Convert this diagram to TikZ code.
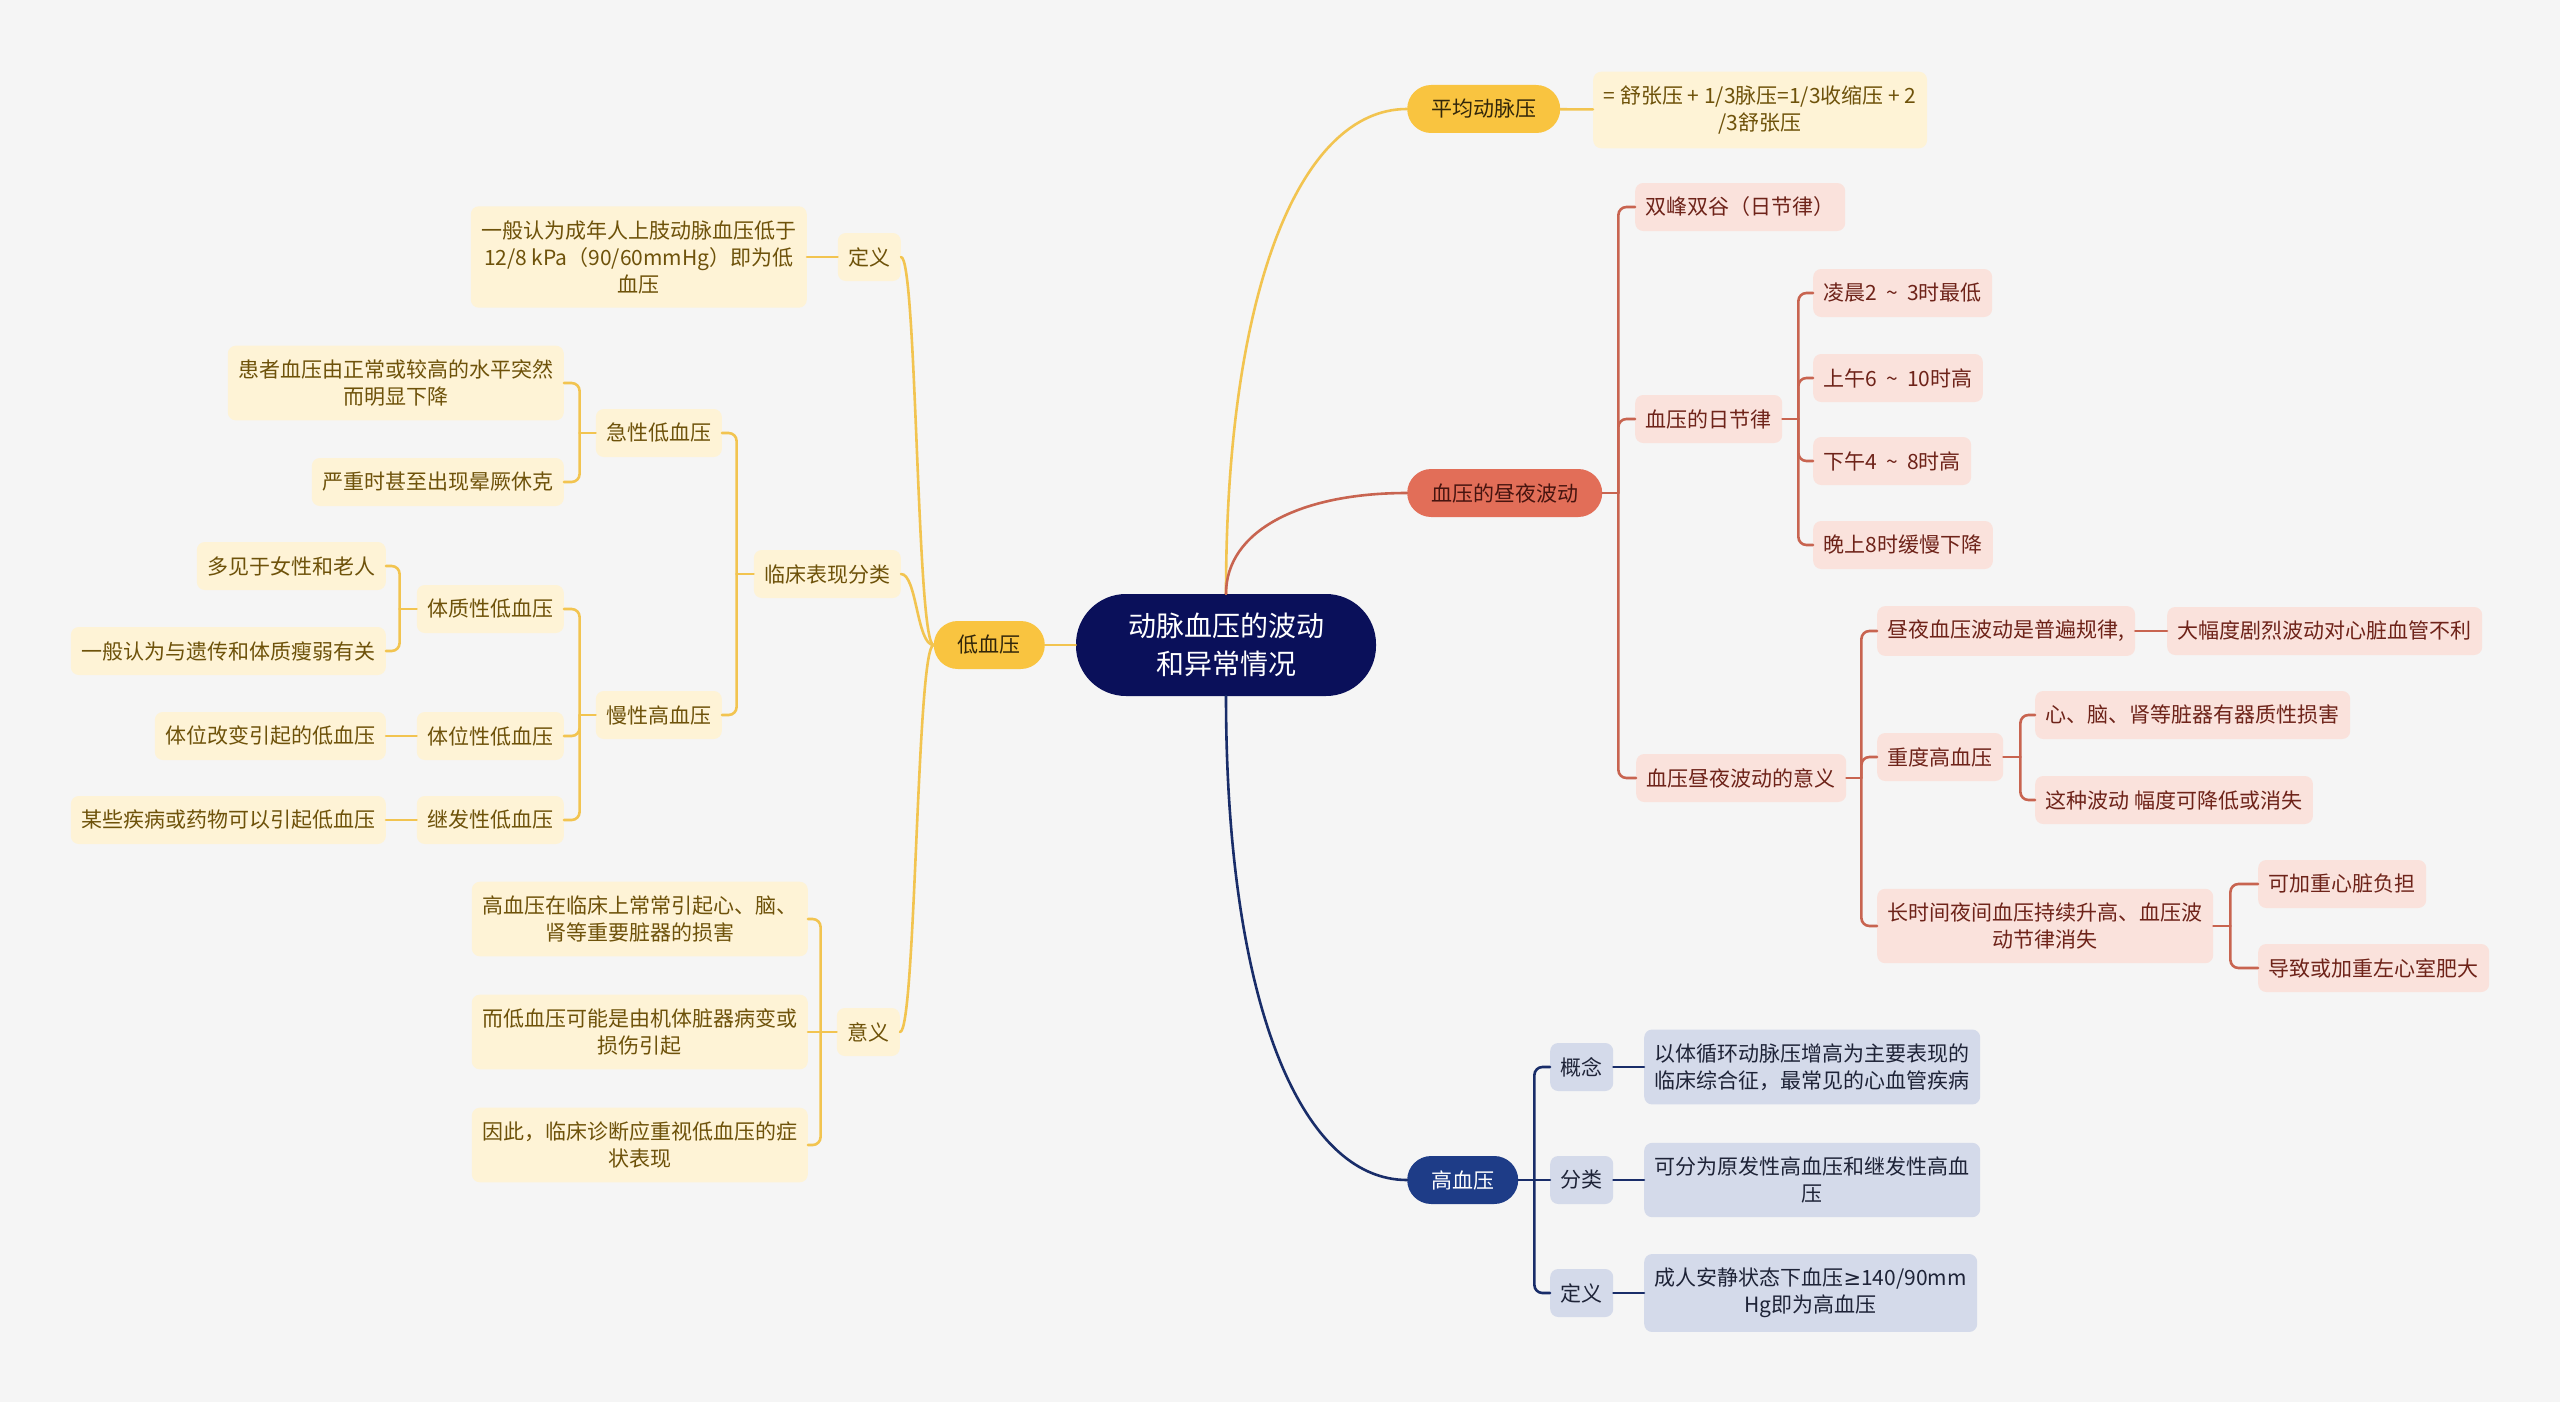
\documentclass[tikz,border=0pt]{standalone}
\usepackage{fontspec}
\setmainfont{Noto Sans CJK SC}
\newfontfamily\symfont{DejaVu Sans}
\usetikzlibrary{positioning}

\definecolor{bgc}{RGB}{245,245,245}
\definecolor{rootc}{RGB}{10,16,90}
\definecolor{yellowc}{RGB}{249,196,64}
\definecolor{ylight}{RGB}{254,243,214}
\definecolor{yline}{RGB}{242,196,80}
\definecolor{ytext}{RGB}{110,82,10}
\definecolor{ytextd}{RGB}{50,38,10}
\definecolor{redc}{RGB}{226,110,88}
\definecolor{rlight}{RGB}{250,226,220}
\definecolor{rline}{RGB}{200,100,80}
\definecolor{rtext}{RGB}{110,35,25}
\definecolor{rtextd}{RGB}{70,20,15}
\definecolor{bluec}{RGB}{30,60,135}
\definecolor{blight}{RGB}{212,218,234}
\definecolor{bline}{RGB}{25,45,105}
\definecolor{btext}{RGB}{30,35,55}

\newcommand{\til}{\hspace{9pt}\textasciitilde\hspace{9pt}}

\begin{document}
\begin{tikzpicture}[x=1pt, y=-1pt,
  rootv/.style={rectangle, rounded corners=50pt, fill=rootc, text=white, font=\fontsize{28pt}{38pt}\selectfont, align=center, minimum width=300pt, minimum height=102pt, inner sep=0pt},
  pillv/.style={rectangle, rounded corners=24pt, font=\fontsize{21pt}{27pt}\selectfont, minimum height=48pt, inner xsep=24pt, inner ysep=0pt},
  yellowv/.style={pillv, fill=yellowc, text=ytextd},
  redv/.style={pillv, fill=redc, text=rtextd},
  bluev/.style={pillv, fill=bluec, text=white},
  subv/.style={rectangle, rounded corners=8pt, font=\fontsize{21pt}{27pt}\selectfont, align=center, minimum height=48pt, inner xsep=10.5pt, inner ysep=14pt},
  ylightv/.style={subv, fill=ylight, text=ytext},
  rlightv/.style={subv, fill=rlight, text=rtext},
  blightv/.style={subv, fill=blight, text=btext},
  yellowedge/.style={draw=yline, line width=2.6pt, line cap=round, rounded corners=8pt},
  rededge/.style={draw=rline, line width=2.6pt, line cap=round, rounded corners=8pt},
  blueedge/.style={draw=bline, line width=2.6pt, line cap=round, rounded corners=8pt}
]
\fill[bgc] (0,0) rectangle (2560,1402);
\useasboundingbox (0,0) rectangle (2560,1402);

\node[rootv] (nroot) at (1226,645) {动脉血压的波动\\和异常情况};

% right: mean pressure
\node[yellowv, anchor=west] (nmean) at (1407,109) {平均动脉压};
\node[ylightv, anchor=west] (nform) at (1593,110) {= 舒张压 + 1/3脉压=1/3收缩压 + 2\\/3舒张压};

% right: day and night
\node[redv, anchor=west] (nday) at (1407,493) {血压的昼夜波动};
\node[rlightv, anchor=west] (npeak) at (1635,207) {双峰双谷（日节律）};
\node[rlightv, anchor=west] (nrhy) at (1635,419) {血压的日节律};
\node[rlightv, anchor=west] (nr1) at (1813,293) {凌晨2\til 3时最低};
\node[rlightv, anchor=west] (nr2) at (1813,378) {上午6\til 10时高};
\node[rlightv, anchor=west] (nr3) at (1813,461) {下午4\til 8时高};
\node[rlightv, anchor=west] (nr4) at (1813,545) {晚上8时缓慢下降};
\node[rlightv, anchor=west] (nmng) at (1636,778) {血压昼夜波动的意义};
\node[rlightv, anchor=west] (nm1) at (1877,631) {昼夜血压波动是普遍规律,};
\node[rlightv, anchor=west] (nm1a) at (2167,631) {大幅度剧烈波动对心脏血管不利};
\node[rlightv, anchor=west] (nsev) at (1877,757) {重度高血压};
\node[rlightv, anchor=west] (nsev1) at (2035,715) {心、脑、肾等脏器有器质性损害};
\node[rlightv, anchor=west] (nsev2) at (2035,800) {这种波动 幅度可降低或消失};
\node[rlightv, anchor=west] (nlong) at (1877,926) {长时间夜间血压持续升高、血压波\\动节律消失};
\node[rlightv, anchor=west] (nlong1) at (2258,884) {可加重心脏负担};
\node[rlightv, anchor=west] (nlong2) at (2258,968) {导致或加重左心室肥大};

% right: hypertension
\node[bluev, anchor=west] (nhyp) at (1407,1180) {高血压};
\node[blightv, anchor=west] (nh1) at (1550,1067) {概念};
\node[blightv, anchor=west] (nh1a) at (1644,1067) {以体循环动脉压增高为主要表现的\\临床综合征，最常见的心血管疾病};
\node[blightv, anchor=west] (nh2) at (1550,1180) {分类};
\node[blightv, anchor=west] (nh2a) at (1644,1180) {可分为原发性高血压和继发性高血\\压};
\node[blightv, anchor=west] (nh3) at (1550,1293) {定义};
\node[blightv, anchor=west] (nh3a) at (1644,1293) {成人安静状态下血压{\symfont ≥}140/90mm\\Hg即为高血压};

% left: hypotension
\node[yellowv, anchor=east] (nlow) at (1045,645) {低血压};
\node[ylightv, anchor=east] (ndef) at (901,257) {定义};
\node[ylightv, anchor=east] (ndefa) at (807,257) {一般认为成年人上肢动脉血压低于\\12/8 kPa（90/60mmHg）即为低\\血压};
\node[ylightv, anchor=east] (nclin) at (901,574) {临床表现分类};
\node[ylightv, anchor=east] (nacu) at (722,433) {急性低血压};
\node[ylightv, anchor=east] (nacu1) at (564,383) {患者血压由正常或较高的水平突然\\而明显下降};
\node[ylightv, anchor=east] (nacu2) at (564,482) {严重时甚至出现晕厥休克};
\node[ylightv, anchor=east] (nchr) at (722,715) {慢性高血压};
\node[ylightv, anchor=east] (ncon) at (564,609) {体质性低血压};
\node[ylightv, anchor=east] (ncon1) at (386,566) {多见于女性和老人};
\node[ylightv, anchor=east] (ncon2) at (386,651) {一般认为与遗传和体质瘦弱有关};
\node[ylightv, anchor=east] (npos) at (564,736) {体位性低血压};
\node[ylightv, anchor=east] (npos1) at (386,736) {体位改变引起的低血压};
\node[ylightv, anchor=east] (nsec) at (564,820) {继发性低血压};
\node[ylightv, anchor=east] (nsec1) at (386,820) {某些疾病或药物可以引起低血压};
\node[ylightv, anchor=east] (nsig) at (900,1032) {意义};
\node[ylightv, anchor=east] (nsig1) at (808,919) {高血压在临床上常常引起心、脑、\\肾等重要脏器的损害};
\node[ylightv, anchor=east] (nsig2) at (808,1032) {而低血压可能是由机体脏器病变或\\损伤引起};
\node[ylightv, anchor=east] (nsig3) at (808,1145) {因此，临床诊断应重视低血压的症\\状表现};

% junctions
\coordinate[right=16pt of nday] (jday);
\coordinate[right=16pt of nrhy] (jrhy);
\coordinate[right=15pt of nmng] (jmng);
\coordinate[right=17pt of nsev] (jsev);
\coordinate[right=17pt of nlong] (jlong);
\coordinate[right=16pt of nhyp] (jhyp);
\coordinate[left=17pt of nclin] (jclin);
\coordinate[left=16pt of nacu] (jacu);
\coordinate[left=16pt of nchr] (jchr);
\coordinate[left=17pt of ncon] (jcon);
\coordinate[left=16pt of nsig] (jsig);

% main branches
\draw[yellowedge] (nroot.north) .. controls +(0,-304) and +(-107,0) .. (nmean.west);
\draw[rededge] (nroot.north) .. controls +(0,-63) and +(-107,0) .. (nday.west);
\draw[blueedge] (nroot.south) .. controls +(0,304) and +(-107,0) .. (nhyp.west);
\draw[yellowedge] (nroot.west) -- (nlow.east);

\draw[yellowedge] (nmean) -- (nform);

\draw[rededge] (nday.east) -- (jday);
\draw[rededge] (jday) |- (npeak.west);
\draw[rededge] (jday) |- (nrhy.west);
\draw[rededge] (jday) |- (nmng.west);
\draw[rededge] (nrhy.east) -- (jrhy);
\foreach \n in {nr1,nr2,nr3,nr4}
  \draw[rededge] (jrhy) |- (\n.west);
\draw[rededge] (nmng.east) -- (jmng);
\foreach \n in {nm1,nsev,nlong}
  \draw[rededge] (jmng) |- (\n.west);
\draw[rededge] (nm1) -- (nm1a);
\draw[rededge] (nsev.east) -- (jsev);
\draw[rededge] (jsev) |- (nsev1.west);
\draw[rededge] (jsev) |- (nsev2.west);
\draw[rededge] (nlong.east) -- (jlong);
\draw[rededge] (jlong) |- (nlong1.west);
\draw[rededge] (jlong) |- (nlong2.west);

\draw[blueedge] (nhyp.east) -- (jhyp);
\draw[blueedge] (jhyp) |- (nh1.west);
\draw[blueedge] (jhyp) -- (nh2.west);
\draw[blueedge] (jhyp) |- (nh3.west);
\draw[blueedge] (nh1) -- (nh1a);
\draw[blueedge] (nh2) -- (nh2a);
\draw[blueedge] (nh3) -- (nh3a);

\foreach \n in {ndef,nclin,nsig}
  \draw[yellowedge] (nlow.west) .. controls +(-17,0) and +(16,0) .. (\n.east);
\draw[yellowedge] (ndef) -- (ndefa);
\draw[yellowedge] (nclin.west) -- (jclin);
\draw[yellowedge] (jclin) |- (nacu.east);
\draw[yellowedge] (jclin) |- (nchr.east);
\draw[yellowedge] (nacu.west) -- (jacu);
\draw[yellowedge] (jacu) |- (nacu1.east);
\draw[yellowedge] (jacu) |- (nacu2.east);
\draw[yellowedge] (nchr.west) -- (jchr);
\foreach \n in {ncon,npos,nsec}
  \draw[yellowedge] (jchr) |- (\n.east);
\draw[yellowedge] (ncon.west) -- (jcon);
\draw[yellowedge] (jcon) |- (ncon1.east);
\draw[yellowedge] (jcon) |- (ncon2.east);
\draw[yellowedge] (npos) -- (npos1);
\draw[yellowedge] (nsec) -- (nsec1);
\draw[yellowedge] (nsig.west) -- (jsig);
\draw[yellowedge] (jsig) |- (nsig1.east);
\draw[yellowedge] (jsig) -- (nsig2.east);
\draw[yellowedge] (jsig) |- (nsig3.east);

\end{tikzpicture}
\end{document}
